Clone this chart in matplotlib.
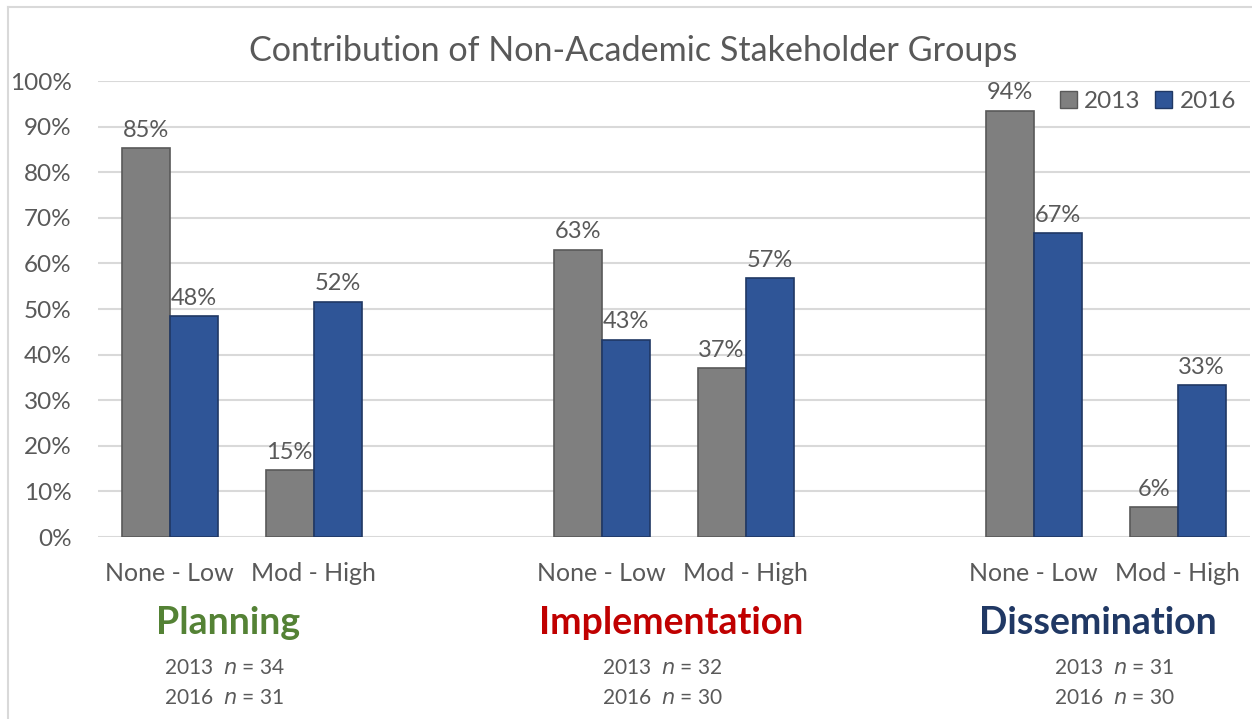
import matplotlib
matplotlib.use("Agg")
import matplotlib.pyplot as plt
import numpy as np
from matplotlib.lines import Line2D
from matplotlib.patches import Patch

plt.rcParams["font.family"] = ["Lato", "DejaVu Sans"]

# 数据：三个阶段 × 两个贡献等级，2013 与 2016 两个年份
stages = ["Planning", "Implementation", "Dissemination"]
stage_colors = ["#548235", "#C00000", "#203864"]
levels = ["None - Low", "Mod - High"]
years = ["2013", "2016"]
vals_2013 = [85.3, 14.7, 63.0, 37.0, 93.5, 6.5]
vals_2016 = [48.4, 51.6, 43.3, 56.7, 66.7, 33.3]
n_2013 = [34, 32, 31]
n_2016 = [31, 30, 30]

text_c = "#595959"
grid_c = "#D9D9D9"

fig = plt.figure(figsize=(12.52, 7.19), dpi=100)
ax = fig.add_axes([0.0779, 0.2531, 0.9202, 0.6342])

# 8 个槽位，第 3、6 个留空作为阶段之间的间隔
slots = np.array([0, 1, 3, 4, 6, 7])
w = 1 / 3
ax.bar(slots - w / 2, vals_2013, w, color="#7F7F7F", edgecolor="#595959", lw=1.2, zorder=3)
ax.bar(slots + w / 2, vals_2016, w, color="#2F5597", edgecolor="#203864", lw=1.2, zorder=3)

for x, v in zip(slots, vals_2013):
    ax.text(x - w / 2, v + 1.6, f"{v:.0f}%", ha="center", va="bottom", fontsize=17, color=text_c)
for x, v in zip(slots, vals_2016):
    ax.text(x + w / 2, v + 1.6, f"{v:.0f}%", ha="center", va="bottom", fontsize=17, color=text_c)

ax.set_xlim(-0.5, 7.5)
ax.set_ylim(0, 100)
ax.set_yticks(np.arange(0, 101, 10))
ax.set_yticklabels([f"{t}%" for t in range(0, 101, 10)])
ax.set_xticks(slots)
ax.set_xticklabels(levels * 3)
ax.tick_params(axis="both", length=0, colors=text_c)
ax.tick_params(axis="y", pad=18.5, labelsize=17.5)
ax.tick_params(axis="x", pad=18, labelsize=18)
ax.grid(axis="y", color=grid_c, lw=1.5, zorder=0)
for s in ax.spines.values():
    s.set_visible(False)

fig.text(0.506, 1 - 51 / 719, "Contribution of Non-Academic Stakeholder Groups",
         ha="center", va="center", fontsize=24.6, color=text_c)

handles = [Patch(facecolor="#7F7F7F", edgecolor="#595959"),
           Patch(facecolor="#2F5597", edgecolor="#203864")]
fig.legend(handles, years, loc="center", bbox_to_anchor=(0.917, 0.8595), ncol=2, frameon=False,
           fontsize=17.5, handlelength=0.7, handleheight=0.7, handletextpad=0.3,
           columnspacing=0.6, labelcolor=text_c)

stage_x = [228, 671, 1098]
n_x = [224, 662, 1114]
for sx, nx, name, c, a, b in zip(stage_x, n_x, stages, stage_colors, n_2013, n_2016):
    fig.text(sx / 1252, 1 - 623 / 719, name, ha="center", va="center", fontsize=27,
             fontweight="bold", color=c)
    fig.text(nx / 1252, 1 - 668 / 719, f"2013  $\\it{{n}}$ = {a}", ha="center", va="center",
             fontsize=15, color=text_c)
    fig.text(nx / 1252, 1 - 698 / 719, f"2016  $\\it{{n}}$ = {b}", ha="center", va="center",
             fontsize=15, color=text_c)

# 外框的上边与左边
fig.add_artist(Line2D([8 / 1252, 1], [1 - 7 / 719] * 2, color=grid_c, lw=1.5))
fig.add_artist(Line2D([8 / 1252] * 2, [0, 1 - 7 / 719], color=grid_c, lw=1.5))

fig.savefig("out.png", dpi=100)
